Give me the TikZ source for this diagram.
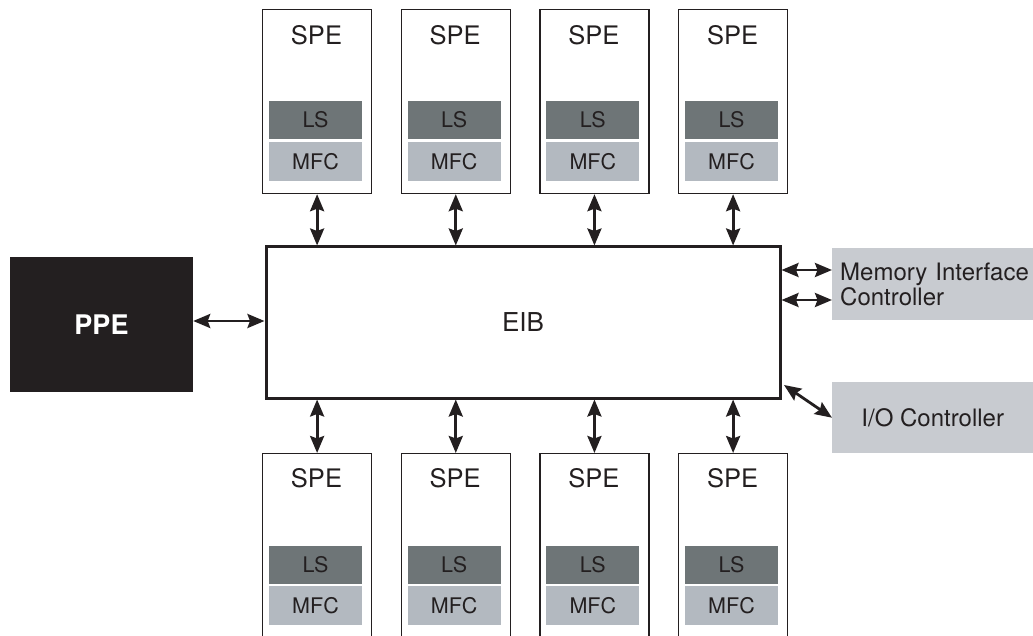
\documentclass[tikz,border=0pt]{standalone}
\usepackage{fontspec}
\setmainfont{TeX Gyre Heros}
\usetikzlibrary{arrows.meta}
\definecolor{lsgray}{HTML}{6E7577}
\definecolor{mfcgray}{HTML}{B3B9C0}
\definecolor{ctrlgray}{HTML}{C8CBD0}
\definecolor{ppeblack}{HTML}{231F20}
\definecolor{txt}{HTML}{231F20}
\begin{document}
\begin{tikzpicture}[x=1pt,y=-1pt,
  spebox/.style={draw=txt, line width=1.2pt, minimum width=109pt, minimum height=184pt, inner sep=0pt, anchor=north west},
  spelabel/.style={inner sep=0pt, text=txt, font=\fontsize{25.5}{25.5}\selectfont},
  lsbox/.style={fill=lsgray, minimum width=93pt, minimum height=38pt, inner sep=0pt, text=txt, font=\fontsize{21.5}{21.5}\selectfont},
  mfcbox/.style={fill=mfcgray, minimum width=93pt, minimum height=39pt, inner sep=0pt, text=txt, font=\fontsize{21.5}{21.5}\selectfont},
  ctrl/.style={fill=ctrlgray, inner sep=0pt, text=txt, font=\fontsize{24}{25}\selectfont},
  biarr/.style={{Stealth[length=17pt,width=14pt,inset=2.5pt]}-{Stealth[length=17pt,width=14pt,inset=2.5pt]}, line width=2.8pt, draw=txt}
]
\useasboundingbox (0,0) rectangle (1033,636);
\clip (0,0) rectangle (1033,636);

% EIB
\node[draw=txt, line width=3pt, minimum width=514pt, minimum height=151pt, inner sep=0pt,
      text=txt, font=\fontsize{26}{26}\selectfont] (eib) at (523,322.5) {EIB};

% PPE
\node[fill=ppeblack, minimum width=183pt, minimum height=135pt, inner sep=0pt,
      text=white, font=\fontsize{27}{27}\selectfont\bfseries] (ppe) at (101.5,324.5) {PPE};
\coordinate (pa) at (0,321);
\draw[biarr] (ppe.east |- pa) -- (eib.west |- pa);

% Memory Interface Controller
\node[ctrl, minimum width=205pt, minimum height=72pt, text width=197pt, align=left,
      anchor=north west, inner xsep=8pt] (mic) at (832,248) {Memory Interface\\Controller};
\coordinate (m1) at (0,270);
\coordinate (m2) at (0,300);
\draw[biarr] (eib.east |- m1) -- (mic.west |- m1);
\draw[biarr] (eib.east |- m2) -- (mic.west |- m2);

% I/O Controller
\node[ctrl, minimum width=201pt, minimum height=71pt, anchor=north west] (io) at (832,382) {I/O Controller};
\coordinate (d1) at (784,385);
\draw[biarr] (d1) -- (io.west);

% SPEs
\foreach \i in {0,...,3}{
  \pgfmathsetmacro\xl{262+138.67*\i}
  % top row
  \node[spebox] (spet\i) at (\xl,9) {};
  \node[spelabel] (splt\i) at (\xl+54.5,35) {SPE};
  \node[lsbox] (lst\i) at (\xl+53.5,120) {LS};
  \node[mfcbox] (mfct\i) at (\xl+53.5,161.5) {MFC};
  \draw[biarr] (spet\i.south) -- (spet\i.south |- eib.north);
  % bottom row
  \node[spebox, minimum height=200pt] (speb\i) at (\xl,453) {};
  \node[spelabel] (splb\i) at (\xl+54.5,478) {SPE};
  \node[lsbox] (lsb\i) at (\xl+53.5,564.5) {LS};
  \node[mfcbox] (mfcb\i) at (\xl+53.5,605.5) {MFC};
  \draw[biarr] (speb\i.north) -- (speb\i.north |- eib.south);
}
\end{tikzpicture}
\end{document}
